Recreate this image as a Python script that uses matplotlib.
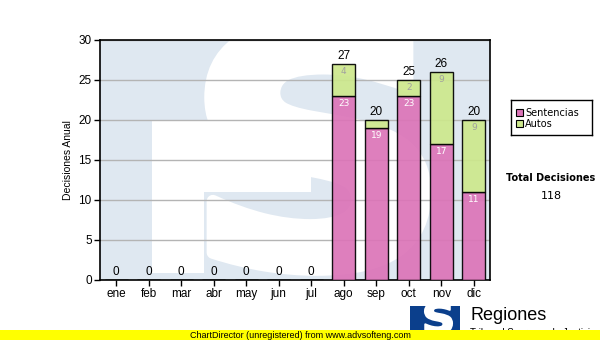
import numpy as np
import matplotlib.pyplot as plt
from matplotlib.patches import PathPatch, Rectangle
from matplotlib.textpath import TextPath
from matplotlib.font_manager import FontProperties
from matplotlib.transforms import Affine2D

months = ["ene", "feb", "mar", "abr", "may", "jun", "jul", "ago", "sep", "oct", "nov", "dic"]
sentencias = [0, 0, 0, 0, 0, 0, 0, 23, 19, 23, 17, 11]
autos = [0, 0, 0, 0, 0, 0, 0, 4, 1, 2, 9, 9]
total_decisiones = 118

pink = "#dc74b8"
green = "#cde88c"
bg_blue = "#dfe8f1"


def glyph_patch(ax, char, x0, x1, y0, y1, color, transform, zorder, lw=0):
    # scale a text glyph so it fills a box, lw fattens the strokes
    prop = FontProperties(family="DejaVu Sans", weight="bold")
    tp = TextPath((0, 0), char, size=100, prop=prop)
    ext = tp.get_extents()
    tr = (Affine2D().translate(-ext.x0, -ext.y0)
          .scale((x1 - x0) / ext.width, (y1 - y0) / ext.height)
          .translate(x0, y0))
    p = PathPatch(tr.transform_path(tp), facecolor=color,
                  edgecolor=color if lw else "none", linewidth=lw,
                  joinstyle="round", transform=transform, zorder=zorder)
    ax.add_patch(p)
    return p


fig = plt.figure(figsize=(6, 3.4), dpi=100)
ax = fig.add_axes([100 / 600, 60 / 340, 390 / 600, 240 / 340])
ax.set_facecolor(bg_blue)
ax.set_xlim(-0.5, 11.5)
ax.set_ylim(0, 30)

# watermark logo in the background
ax.add_patch(Rectangle((1.1, 11), 4.9, 9, facecolor="white", edgecolor="none", zorder=0))
ax.add_patch(Rectangle((1.1, 0.9), 1.6, 10.2, facecolor="white", edgecolor="none", zorder=0))
glyph_patch(ax, "S", 2.9, 9.5, 1.3, 32.0, "white", ax.transData, 0.1, lw=9)

ax.yaxis.grid(True, color="#b4b4b4", linewidth=1)
ax.set_axisbelow(True)

x = np.arange(len(months))
w = 0.72
ax.bar(x, sentencias, w, color=pink, alpha=0.92, edgecolor="black", linewidth=1, zorder=3)
ax.bar(x, autos, w, bottom=sentencias, color=green, alpha=0.92, edgecolor="black", linewidth=1, zorder=3)

for i in range(len(months)):
    s, a = sentencias[i], autos[i]
    tot = s + a
    ax.text(i, tot + 0.25, str(tot), ha="center", va="bottom", fontsize=8.5,
            family="Liberation Sans", zorder=5)
    if s >= 2:
        ax.text(i, s - 0.35, str(s), ha="center", va="top", fontsize=6.5,
                color="white", zorder=5)
    if a >= 2:
        ax.text(i, tot - 0.35, str(a), ha="center", va="top", fontsize=6.5,
                color="#a0a0a0", zorder=5)

ax.set_xticks(x)
ax.set_xticklabels(months, family="Liberation Sans", fontsize=8.5)
ax.set_yticks(range(0, 31, 5))
ax.set_yticklabels([str(v) for v in range(0, 31, 5)], family="Liberation Sans", fontsize=8.5)
ax.tick_params(length=4, width=1, pad=2)
ax.set_ylabel("Decisiones Anual", family="Liberation Sans", fontsize=7.5, labelpad=4)
for sp in ax.spines.values():
    sp.set_linewidth(1.2)

# legend box
lg = fig.add_axes([511 / 600, 1 - 135 / 340, 81 / 600, 35 / 340])
lg.set_xlim(0, 81)
lg.set_ylim(35, 0)
lg.set_xticks([])
lg.set_yticks([])
for sp in lg.spines.values():
    sp.set_linewidth(1.0)
for yy, lab, col in [(13, "Sentencias", pink), (24, "Autos", green)]:
    lg.add_patch(Rectangle((4.5, yy - 3.5), 7, 7, facecolor=col, edgecolor="black", linewidth=0.8))
    lg.text(14, yy, lab, va="center", ha="left", fontsize=7)

fig.text(551 / 600, 1 - 178 / 340, "Total Decisiones", ha="center", va="center",
         fontsize=7, fontweight="bold")
fig.text(551 / 600, 1 - 196 / 340, str(total_decisiones), ha="center", va="center", fontsize=8)

# footer logo
fa = fig.add_axes([0, 0, 1, 1], zorder=-1)
fa.set_xlim(0, 600)
fa.set_ylim(340, 0)
fa.axis("off")
fa.add_patch(Rectangle((410, 306), 50, 30, facecolor="#0b3f8c", edgecolor="none"))
glyph_patch(fa, "S", 425, 452, 333, 302, "white", fa.transData, 2, lw=1.5)
fa.add_patch(Rectangle((410, 313), 10, 25, facecolor="#0b3f8c", edgecolor="none", zorder=3))
fa.text(470, 316, "Regiones", fontsize=13, family="Liberation Sans", va="center", ha="left")
fa.text(470, 333, "Tribunal Supremo de Justicia", fontsize=7, family="Liberation Sans",
        va="center", ha="left")
fa.add_patch(Rectangle((0, 330), 600, 10, facecolor="#ffff00", edgecolor="none", zorder=5))
fa.text(190, 335, "ChartDirector (unregistered) from www.advsofteng.com", fontsize=6.5,
        family="Liberation Sans", va="center", ha="left", zorder=6)

fig.savefig("out.png", dpi=100)
